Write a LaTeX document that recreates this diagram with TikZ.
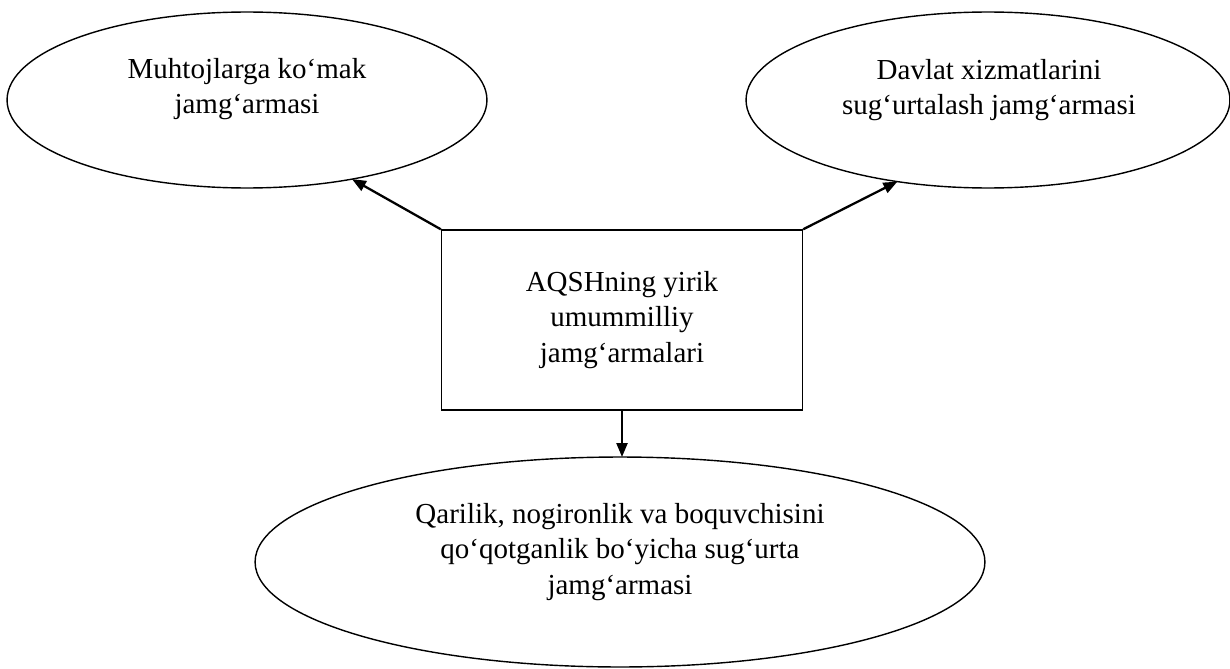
\documentclass[tikz,border=0pt]{standalone}
\usepackage{fontspec}
\setmainfont{Liberation Serif}
\usetikzlibrary{shapes.geometric,arrows.meta}

\begin{document}
\begin{tikzpicture}[x=0.02cm, y=-0.02cm, font=\fontsize{16.5}{20}\selectfont]
\tikzstyle{fund}=[draw, ellipse, line width=0.8pt, inner sep=0pt, outer sep=0pt]
\tikzstyle{txt}=[align=center, inner sep=0pt]
\tikzstyle{arr}=[-{Triangle[length=0.28cm, width=0.22cm]}, line width=1.3pt]
\useasboundingbox (0,0) rectangle (1230,669);

\node[fund, minimum width=9.6cm, minimum height=3.52cm] (muhtoj) at (247,100) {};
\node[txt] (muhtojText) at (247,89) {Muhtojlarga ko‘mak\\jamg‘armasi};
\node[fund, minimum width=9.68cm, minimum height=3.52cm] (davlat) at (988,100) {};
\node[txt] (davlatText) at (989,90) {Davlat xizmatlarini\\sug‘urtalash jamg‘armasi};
\node[draw, line width=0.8pt, align=center, minimum width=7.22cm, minimum height=3.6cm] (box) at (622,320) {AQSHning yirik\\umummilliy\\jamg‘armalari};
\node[fund, minimum width=14.6cm, minimum height=4.2cm] (qarilik) at (620,562) {};
\node[txt] (qarilikText) at (620,552) {Qarilik, nogironlik va boquvchisini\\qo‘qotganlik bo‘yicha sug‘urta\\jamg‘armasi};

\draw[arr] (box.north west) -- (muhtoj.-37.7);
\draw[arr] (box.north east) -- (davlat.222.4);
\draw[arr] (box.south) -- (box.south |- qarilik.north);
\end{tikzpicture}
\end{document}
